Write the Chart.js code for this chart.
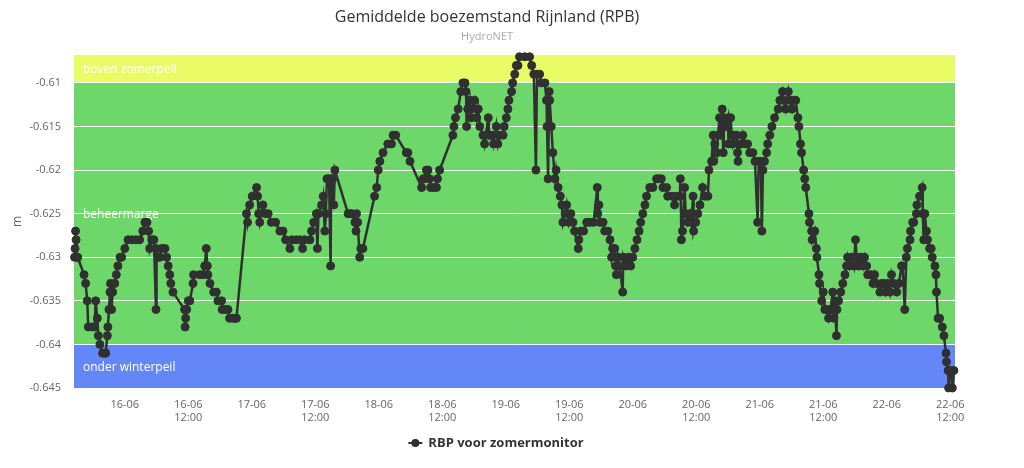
<!DOCTYPE html>
<html lang="nl">
<head>
<meta charset="utf-8">
<title>Gemiddelde boezemstand Rijnland (RPB)</title>
<script src="https://cdn.jsdelivr.net/npm/chart.js@4.4.1/dist/chart.umd.min.js"></script>
<style>
  html, body { margin: 0; padding: 0; background: #fff; }
</style>
</head>
<body>
<canvas id="grafiek" width="1024" height="468"></canvas>
<script>
// tijd in uren vanaf 16-06 00:00, stand in m
const uren = [
  -9.5, -9.4, -9.3, -9.2, -9.1, -8.9, -7.7, -7.4, -7.1, -6.9, -6.2, -5.7, -5.5, -5.2, -5.0, -4.7,
  -4.2, -3.8, -3.6, -3.3, -3.2, -3.0, -2.8, -2.7, -2.5, -2.3, -1.9, -1.6, -1.3, -0.9, -0.6, 0.0,
  0.6, 1.3, 2.1, 2.8, 3.4, 3.8, 4.2, 4.5, 4.7, 5.1, 5.5, 5.9, 6.0, 6.3, 6.6, 7.0,
  7.6, 7.9, 8.2, 8.5, 8.7, 9.1, 11.3, 11.4, 11.5, 11.7, 12.0, 12.3, 12.9, 13.0, 14.2, 14.8,
  15.1, 15.4, 15.6, 15.7, 16.1, 16.8, 17.3, 17.6, 18.3, 18.4, 18.9, 19.5, 19.8, 20.4, 20.8, 21.1,
  23.0, 23.2, 23.6, 24.1, 24.9, 25.1, 25.3, 25.5, 26.1, 26.6, 27.1, 27.7, 28.5, 29.3, 29.9, 30.4,
  31.2, 31.6, 32.4, 33.1, 33.6, 34.0, 35.0, 35.3, 35.7, 36.2, 36.4, 36.6, 37.2, 37.5, 37.8, 38.0,
  38.2, 38.6, 38.9, 39.0, 39.3, 39.5, 39.7, 42.2, 42.5, 42.9, 43.5, 43.7, 43.8, 44.0, 44.4, 44.6,
  45.0, 47.2, 47.6, 47.9, 48.2, 48.8, 49.7, 50.4, 50.7, 51.2, 53.2, 53.5, 53.9, 56.1, 56.4, 56.7,
  57.0, 57.3, 57.6, 57.8, 58.4, 58.9, 59.1, 59.5, 62.0, 62.2, 62.5, 63.0, 63.5, 63.9, 64.3, 64.5,
  64.6, 64.8, 65.2, 65.4, 65.6, 66.1, 66.5, 66.8, 67.1, 67.7, 68.0, 68.2, 68.7, 68.8, 69.0, 69.4,
  69.7, 70.2, 70.5, 70.9, 71.5, 71.7, 72.1, 72.4, 72.6, 73.1, 73.3, 73.7, 74.0, 74.3, 74.6, 75.6,
  76.5, 76.9, 77.3, 77.7, 77.9, 78.4, 78.7, 79.4, 79.7, 79.8, 80.0, 80.2, 80.3, 80.6, 80.9, 81.3,
  81.5, 81.9, 82.3, 82.6, 82.8, 83.2, 83.5, 83.9, 84.3, 84.7, 85.0, 85.7, 85.8, 86.2, 86.7, 87.3,
  87.9, 88.6, 89.3, 89.4, 89.6, 89.8, 90.4, 90.7, 91.3, 91.7, 92.0, 92.2, 92.6, 92.8, 92.9, 93.2,
  93.5, 94.1, 94.2, 94.7, 95.2, 95.6, 96.0, 96.4, 96.8, 97.2, 97.5, 97.9, 98.3, 98.6, 99.2, 99.8,
  100.5, 100.9, 101.4, 101.7, 102.4, 102.6, 103.4, 103.9, 104.3, 104.9, 105.0, 105.2, 105.4, 105.8, 106.0, 106.4,
  106.8, 107.1, 107.4, 107.5, 107.9, 108.3, 108.7, 109.2, 109.6, 110.2, 110.4, 110.9, 111.2, 111.3, 111.5, 111.9,
  112.1, 112.4, 112.6, 112.9, 113.1, 113.2, 113.6, 114.0, 114.1, 114.5, 114.7, 114.9, 115.3, 115.6, 115.8, 115.9,
  116.2, 116.6, 116.8, 117.2, 117.7, 118.1, 118.7, 119.1, 119.6, 119.8, 120.2, 120.4, 120.6, 120.9, 121.3, 121.5,
  121.9, 122.3, 122.8, 123.5, 123.8, 124.3, 124.5, 124.9, 125.4, 125.7, 126.1, 126.4, 126.8, 127.2, 127.4, 127.7,
  127.9, 128.3, 128.5, 128.7, 129.3, 129.4, 129.8, 129.9, 130.4, 130.7, 130.8, 131.2, 131.3, 131.7, 132.0, 132.3,
  132.7, 133.0, 133.4, 133.8, 134.0, 134.2, 134.5, 134.6, 134.9, 135.3, 135.7, 136.1, 136.4, 136.6, 137.0, 137.4,
  137.8, 138.1, 138.3, 138.7, 139.1, 139.5, 139.8, 140.2, 140.4, 141.0, 141.4, 141.7, 142.1, 142.7, 143.1, 143.4,
  143.8, 144.2, 144.6, 144.9, 145.3, 145.9, 146.3, 146.8, 147.0, 147.4, 147.7, 147.9, 148.4, 148.5, 148.9, 149.1,
  149.6, 149.7, 150.2, 150.7, 150.8, 151.0, 151.2, 151.5, 151.7, 152.1, 152.4, 152.6, 153.1, 153.3, 153.4, 153.7,
  154.0, 154.5, 154.8, 155.2, 155.3, 155.6, 155.7, 155.9, 156.2, 156.4, 156.7
];
const stand = [
  -0.630, -0.629, -0.627, -0.628, -0.630, -0.630, -0.632, -0.633, -0.635, -0.638, -0.638, -0.638, -0.635, -0.637, -0.639, -0.640,
  -0.641, -0.641, -0.641, -0.639, -0.638, -0.636, -0.634, -0.633, -0.636, -0.634, -0.633, -0.632, -0.631, -0.630, -0.630, -0.629,
  -0.628, -0.628, -0.628, -0.628, -0.627, -0.626, -0.626, -0.627, -0.629, -0.628, -0.628, -0.636, -0.629, -0.630, -0.630, -0.629,
  -0.629, -0.630, -0.631, -0.632, -0.633, -0.634, -0.636, -0.638, -0.637, -0.636, -0.635, -0.635, -0.633, -0.632, -0.632, -0.632,
  -0.631, -0.629, -0.631, -0.632, -0.633, -0.634, -0.634, -0.635, -0.635, -0.636, -0.636, -0.636, -0.637, -0.637, -0.637, -0.637,
  -0.625, -0.626, -0.624, -0.623, -0.622, -0.623, -0.625, -0.626, -0.624, -0.625, -0.625, -0.626, -0.626, -0.627, -0.627, -0.628,
  -0.629, -0.628, -0.628, -0.628, -0.629, -0.628, -0.628, -0.627, -0.626, -0.625, -0.629, -0.625, -0.624, -0.623, -0.627, -0.625,
  -0.621, -0.621, -0.631, -0.621, -0.621, -0.624, -0.620, -0.625, -0.625, -0.625, -0.626, -0.627, -0.625, -0.626, -0.630, -0.629,
  -0.629, -0.623, -0.622, -0.620, -0.619, -0.618, -0.617, -0.617, -0.616, -0.616, -0.618, -0.618, -0.619, -0.622, -0.621, -0.621,
  -0.620, -0.620, -0.621, -0.622, -0.622, -0.622, -0.621, -0.620, -0.616, -0.615, -0.614, -0.613, -0.611, -0.610, -0.610, -0.611,
  -0.615, -0.613, -0.612, -0.614, -0.613, -0.612, -0.614, -0.613, -0.615, -0.616, -0.617, -0.616, -0.614, -0.616, -0.616, -0.616,
  -0.617, -0.615, -0.617, -0.616, -0.616, -0.615, -0.614, -0.613, -0.612, -0.611, -0.610, -0.609, -0.608, -0.608, -0.607, -0.607,
  -0.607, -0.608, -0.609, -0.620, -0.609, -0.609, -0.610, -0.610, -0.612, -0.615, -0.621, -0.611, -0.612, -0.615, -0.618, -0.621,
  -0.620, -0.622, -0.623, -0.624, -0.626, -0.625, -0.624, -0.626, -0.625, -0.626, -0.627, -0.629, -0.628, -0.627, -0.627, -0.626,
  -0.626, -0.626, -0.622, -0.625, -0.624, -0.626, -0.626, -0.627, -0.627, -0.628, -0.630, -0.629, -0.629, -0.631, -0.632, -0.630,
  -0.631, -0.634, -0.630, -0.631, -0.630, -0.631, -0.630, -0.629, -0.628, -0.627, -0.626, -0.625, -0.624, -0.623, -0.622, -0.622,
  -0.621, -0.621, -0.621, -0.622, -0.622, -0.623, -0.623, -0.624, -0.623, -0.623, -0.621, -0.628, -0.627, -0.622, -0.625, -0.626,
  -0.625, -0.626, -0.623, -0.627, -0.626, -0.625, -0.624, -0.622, -0.623, -0.623, -0.620, -0.619, -0.616, -0.619, -0.617, -0.618,
  -0.616, -0.614, -0.616, -0.613, -0.618, -0.614, -0.615, -0.614, -0.617, -0.614, -0.616, -0.617, -0.616, -0.616, -0.618, -0.619,
  -0.617, -0.617, -0.616, -0.617, -0.617, -0.618, -0.618, -0.619, -0.626, -0.619, -0.619, -0.627, -0.620, -0.619, -0.618, -0.617,
  -0.616, -0.615, -0.614, -0.613, -0.612, -0.611, -0.612, -0.613, -0.611, -0.612, -0.613, -0.612, -0.612, -0.614, -0.615, -0.617,
  -0.618, -0.620, -0.621, -0.622, -0.625, -0.626, -0.627, -0.628, -0.627, -0.629, -0.630, -0.632, -0.633, -0.635, -0.634, -0.636,
  -0.636, -0.637, -0.636, -0.634, -0.637, -0.635, -0.639, -0.636, -0.635, -0.634, -0.633, -0.632, -0.631, -0.630, -0.631, -0.630,
  -0.631, -0.628, -0.630, -0.631, -0.630, -0.631, -0.630, -0.631, -0.632, -0.632, -0.633, -0.632, -0.633, -0.634, -0.633, -0.633,
  -0.634, -0.633, -0.634, -0.632, -0.633, -0.634, -0.633, -0.631, -0.631, -0.636, -0.630, -0.629, -0.628, -0.627, -0.626, -0.626,
  -0.625, -0.624, -0.623, -0.622, -0.625, -0.628, -0.625, -0.627, -0.628, -0.629, -0.629, -0.630, -0.631, -0.632, -0.634, -0.637,
  -0.637, -0.638, -0.639, -0.641, -0.642, -0.643, -0.645, -0.643, -0.643, -0.645, -0.643
];

// as-indeling
const tijdTicks = [0, 12, 24, 36, 48, 60, 72, 84, 96, 108, 120, 132, 144, 156];
const tijdLabels = [
  ['16-06'], ['16-06', '12:00'], ['17-06'], ['17-06', '12:00'], ['18-06'], ['18-06', '12:00'],
  ['19-06'], ['19-06', '12:00'], ['20-06'], ['20-06', '12:00'], ['21-06'], ['21-06', '12:00'],
  ['22-06'], ['22-06', '12:00']
];
const standTicks = [-0.645, -0.64, -0.635, -0.63, -0.625, -0.62, -0.615, -0.61];
const standLabels = ['-0.645', '-0.64', '-0.635', '-0.63', '-0.625', '-0.62', '-0.615', '-0.61'];

// peilbanden
const bandNamen = ['boven zomerpeil', 'beheermarge', 'onder winterpeil'];
const bandVan = [-0.61, -0.64, -0.645];
const bandTot = [-0.6068, -0.61, -0.64];
const bandKleuren = ['#e9fc65', '#6dd769', '#6487f7'];

const reeksNaam = 'RBP voor zomermonitor';
const lijnKleur = '#303030';
const lettertype = '"Open Sans", "DejaVu Sans", sans-serif';

const punten = uren.map((u, i) => ({ x: u, y: stand[i] }));

const peilPlugin = {
  id: 'peilPlugin',
  beforeDraw(chart) {
    const { ctx, chartArea: a, scales: { y } } = chart;
    ctx.save();
    for (let i = 0; i < bandNamen.length; i++) {
      const boven = y.getPixelForValue(bandTot[i]);
      const onder = y.getPixelForValue(bandVan[i]);
      ctx.fillStyle = bandKleuren[i];
      ctx.fillRect(a.left, boven, a.right - a.left, onder - boven);
    }
    ctx.restore();
  },
  beforeDatasetsDraw(chart) {
    const { ctx, chartArea: a, scales: { y } } = chart;
    ctx.save();
    ctx.font = '12px ' + lettertype;
    ctx.fillStyle = '#ffffff';
    ctx.textBaseline = 'middle';
    ctx.textAlign = 'left';
    for (let i = 0; i < bandNamen.length; i++) {
      const midden = (y.getPixelForValue(bandTot[i]) + y.getPixelForValue(bandVan[i])) / 2;
      ctx.fillText(bandNamen[i], a.left + 9, midden + 1);
    }
    ctx.restore();
  },
  afterDraw(chart) {
    const { ctx } = chart;
    ctx.save();
    ctx.textAlign = 'center';
    ctx.textBaseline = 'middle';
    ctx.fillStyle = '#333333';
    ctx.font = '16px ' + lettertype;
    ctx.fillText('Gemiddelde boezemstand Rijnland (RPB)', 487, 17);
    ctx.fillStyle = '#aaaaaa';
    ctx.font = '11px ' + lettertype;
    ctx.fillText('HydroNET', 487, 37);

    // legenda
    ctx.font = 'bold 13px ' + lettertype;
    const breedte = ctx.measureText(reeksNaam).width;
    const start = 496 - (breedte + 20) / 2;
    const ly = 443;
    ctx.strokeStyle = lijnKleur;
    ctx.lineWidth = 2;
    ctx.beginPath();
    ctx.moveTo(start, ly);
    ctx.lineTo(start + 14, ly);
    ctx.stroke();
    ctx.fillStyle = lijnKleur;
    ctx.beginPath();
    ctx.arc(start + 7, ly, 4, 0, Math.PI * 2);
    ctx.fill();
    ctx.fillStyle = '#333333';
    ctx.textAlign = 'left';
    ctx.fillText(reeksNaam, start + 20, ly);
    ctx.restore();
  }
};

new Chart(document.getElementById('grafiek'), {
  type: 'line',
  data: {
    datasets: [{
      label: reeksNaam,
      data: punten,
      borderColor: lijnKleur,
      backgroundColor: lijnKleur,
      borderWidth: 2.5,
      pointRadius: 4,
      pointBorderWidth: 1,
      pointBackgroundColor: lijnKleur,
      pointBorderColor: lijnKleur,
      tension: 0,
      clip: false
    }]
  },
  options: {
    responsive: false,
    animation: false,
    devicePixelRatio: 1,
    layout: { padding: { top: 55, right: 69, bottom: 0, left: 0 } },
    plugins: {
      legend: { display: false },
      tooltip: { enabled: false },
      title: { display: false }
    },
    scales: {
      x: {
        type: 'linear',
        min: -9.6,
        max: 156.9,
        grid: { display: false, drawTicks: false },
        border: { display: false },
        afterFit(scale) { scale.height = 80; },
        afterBuildTicks(scale) { scale.ticks = tijdTicks.map(v => ({ value: v })); },
        ticks: {
          padding: 10,
          maxRotation: 0,
          autoSkip: false,
          color: '#666666',
          font: { family: lettertype, size: 11 },
          callback: (v) => tijdLabels[tijdTicks.indexOf(v)]
        }
      },
      y: {
        min: -0.645,
        max: -0.6068,
        grid: { color: '#ffffff', lineWidth: 1, drawTicks: false },
        border: { display: false },
        afterFit(scale) { scale.width = 74; },
        afterBuildTicks(scale) { scale.ticks = standTicks.map(v => ({ value: v })); },
        title: {
          display: true,
          text: 'm',
          color: '#666666',
          font: { family: lettertype, size: 12 },
          padding: { top: 10, bottom: 0 }
        },
        ticks: {
          padding: 13,
          color: '#666666',
          font: { family: lettertype, size: 11 },
          callback: (v) => standLabels[standTicks.indexOf(v)]
        }
      }
    }
  },
  plugins: [peilPlugin]
});
</script>
</body>
</html>
